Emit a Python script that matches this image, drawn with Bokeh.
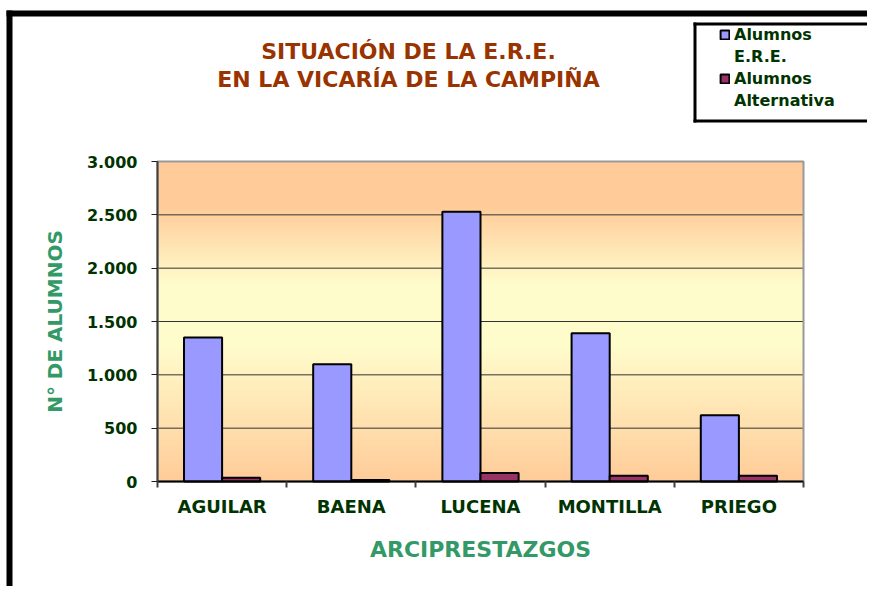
import numpy as np
from bokeh.plotting import figure
from bokeh.models import (Range1d, FixedTicker, Legend, LegendItem, Label, BoxAnnotation)
from bokeh.embed import file_html
from bokeh.resources import INLINE

# ---- data ----
categories = ["AGUILAR", "BAENA", "LUCENA", "MONTILLA", "PRIEGO"]
alumnos_ere = [1350, 1100, 2530, 1390, 620]
alumnos_alt = [35, 15, 80, 55, 55]
y_ticks = [0, 500, 1000, 1500, 2000, 2500, 3000]
y_tick_labels = ["0", "500", "1.000", "1.500", "2.000", "2.500", "3.000"]
title_lines = ["SITUACIÓN DE LA E.R.E.", "EN LA VICARÍA DE LA CAMPIÑA"]
series_names = ["Alumnos\nE.R.E.", "Alumnos\nAlternativa"]
x_title = "ARCIPRESTAZGOS"
y_title = "N° DE ALUMNOS"

FONT = "DejaVu Sans"
DARK_GREEN = "#003300"
GREEN = "#339966"
TITLE_RED = "#993300"

# ---- layout (canvas pixels) ----
W, H = 867, 586
PL, PR, PT, PB = 157, 803, 161, 481      # plot area edges
n_cat = len(categories)
y_max = y_ticks[-1]
sx = (PR - PL) / n_cat                    # px per category
sy = (PB - PT) / y_max                    # px per student
x_range = Range1d(-PL / sx, (W - PL) / sx)
y_range = Range1d(-(H - PB) / sy, y_max + PT / sy)

p = figure(width=W, height=H, output_backend="svg", toolbar_location=None,
           x_range=x_range, y_range=y_range,
           min_border=0, min_border_left=0, min_border_right=0,
           min_border_top=0, min_border_bottom=0,
           background_fill_color="white", border_fill_color="white")
p.title.visible = False
p.outline_line_color = None
p.xgrid.visible = False
p.ygrid.visible = False

# background gradient (peach -> pale yellow -> peach) over the plot area
n = 320
tt = (np.arange(n) + 0.5) / n             # 0 = bottom, 1 = top
w = np.interp(tt, [0.0, 0.42, 0.62, 0.86, 1.0], [0.0, 1.0, 1.0, 0.0, 0.0])
peach = np.array([255, 204, 153], dtype=float)
pale = np.array([255, 252, 204], dtype=float)
cols = peach[None, :] * (1 - w[:, None]) + pale[None, :] * w[:, None]
img = np.empty((n, 1), dtype=np.uint32)
view = img.view(dtype=np.uint8).reshape((n, 1, 4))
view[:, 0, 0] = cols[:, 0]
view[:, 0, 1] = cols[:, 1]
view[:, 0, 2] = cols[:, 2]
view[:, 0, 3] = 255
p.image_rgba(image=[img], x=0, y=0, dw=n_cat, dh=y_max, level="image")

# horizontal grid lines limited to the plot area
p.segment(x0=[0] * len(y_ticks), x1=[n_cat] * len(y_ticks), y0=y_ticks, y1=y_ticks,
          line_color="#333333", line_width=1)
# plot area border (top / right grey edge)
p.quad(left=[0], right=[n_cat], bottom=[0], top=[y_max], fill_color=None,
       line_color="#999999", line_width=2)

# bars
idx = np.arange(n_cat)
bw = 0.295
r1 = p.vbar(x=idx + 0.5 - bw / 2, top=alumnos_ere, width=bw,
            fill_color="#9999FF", line_color="black", line_width=2)
r2 = p.vbar(x=idx + 0.5 + bw / 2, top=alumnos_alt, width=bw,
            fill_color="#993366", line_color="black", line_width=2)

# x axis (fixed at y = 0)
xa = p.xaxis[0]
xa.fixed_location = 0
xa.bounds = (0, n_cat)
xa.ticker = FixedTicker(ticks=[float(i + 0.5) for i in idx],
                        minor_ticks=[float(i) for i in range(n_cat + 1)])
xa.major_label_overrides = {float(i + 0.5): c for i, c in enumerate(categories)}
xa.major_tick_line_color = None
xa.major_tick_out = 0
xa.major_tick_in = 0
xa.minor_tick_out = 6
xa.minor_tick_in = 0
xa.minor_tick_line_color = "#404040"
xa.minor_tick_line_width = 2
xa.axis_line_color = "black"
xa.axis_line_width = 2
xa.major_label_standoff = 8
xa.major_label_text_font = FONT
xa.major_label_text_font_style = "bold"
xa.major_label_text_font_size = "18px"
xa.major_label_text_color = DARK_GREEN

# y axis (fixed at x = 0)
ya = p.yaxis[0]
ya.fixed_location = 0
ya.bounds = (0, y_max)
ya.ticker = FixedTicker(ticks=y_ticks, minor_ticks=[])
ya.major_label_overrides = {v: l for v, l in zip(y_ticks, y_tick_labels)}
ya.major_tick_out = 6
ya.major_tick_in = 0
ya.major_tick_line_color = "#202020"
ya.major_tick_line_width = 1
ya.axis_line_color = "#404040"
ya.axis_line_width = 2
ya.major_label_standoff = 14
ya.major_label_text_font = FONT
ya.major_label_text_font_style = "bold"
ya.major_label_text_font_size = "16px"
ya.major_label_text_color = DARK_GREEN


def sy_(canvas_y):
    """canvas y (from top) -> screen units (from bottom of frame)"""
    return H - canvas_y


# axis titles
p.add_layout(Label(x=n_cat / 2, y=sy_(549), x_units="data", y_units="screen",
                   text=x_title, text_align="center", text_baseline="middle",
                   text_font=FONT, text_font_style="bold", text_font_size="22px",
                   text_color=GREEN))
p.add_layout(Label(x=54, y=y_max / 2, x_units="screen", y_units="data",
                   text=y_title, angle=np.pi / 2, text_align="center",
                   text_baseline="middle", text_font=FONT, text_font_style="bold",
                   text_font_size="20px", text_color=GREEN))

# chart title
for i, line in enumerate(title_lines):
    p.add_layout(Label(x=408, y=sy_(51 + 28 * i), x_units="screen", y_units="screen",
                       text=line, text_align="center", text_baseline="middle",
                       text_font=FONT, text_font_style="bold",
                       text_font_size="22px", text_color=TITLE_RED))


def box(l, r, t, b, **kw):
    return BoxAnnotation(left=l, right=r, top=sy_(t), bottom=sy_(b),
                         left_units="screen", right_units="screen",
                         top_units="screen", bottom_units="screen",
                         fill_alpha=1, line_color=None, line_alpha=0, **kw)


# outer black frame (left and top edges)
p.add_layout(box(6, 12, 10, H, fill_color="black"))
p.add_layout(box(6, W, 10, 16, fill_color="black"))
# legend box: white, 3 px black border on left / top / bottom (open to the right edge)
p.add_layout(box(693, W, 22, 122, fill_color="white"))
p.add_layout(box(693, W, 22, 25, fill_color="black"))
p.add_layout(box(693, W, 119, 122, fill_color="black"))
p.add_layout(box(693, 696, 22, 122, fill_color="black"))

# legend: one row per text line, marker on the first line of each series
items = []
for name, r in zip(series_names, [r1, r2]):
    lines = name.split("\n")
    items.append(LegendItem(label=lines[0], renderers=[r]))
    for extra in lines[1:]:
        items.append(LegendItem(label=extra, renderers=[]))

legend = Legend(items=items, location=(719, sy_(111)))
legend.border_line_color = None
legend.background_fill_alpha = 0
legend.padding = 5
legend.margin = 0
legend.spacing = 0
legend.glyph_width = 11
legend.glyph_height = 11
legend.label_height = 22
legend.label_standoff = 4
legend.label_text_font = FONT
legend.label_text_font_style = "bold"
legend.label_text_font_size = "16px"
legend.label_text_color = DARK_GREEN
p.add_layout(legend)

open("out.html", "w").write(file_html(p, INLINE))
